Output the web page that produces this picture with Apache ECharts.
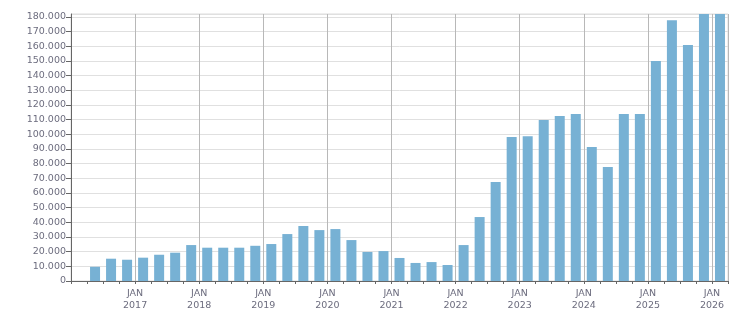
<!DOCTYPE html>
<html>
<head>
<meta charset="utf-8">
<script src="https://cdn.jsdelivr.net/npm/echarts@6/dist/echarts.min.js"></script>
<style>
  html, body { margin: 0; padding: 0; background: #fff; }
  #chart { width: 751px; height: 313px; }
</style>
</head>
<body>
<div id="chart"></div>
<script>
// quarters (categories)
var quarters = [
  '2016 Q1', '2016 Q2', '2016 Q3', '2016 Q4',
  '2017 Q1', '2017 Q2', '2017 Q3', '2017 Q4',
  '2018 Q1', '2018 Q2', '2018 Q3', '2018 Q4',
  '2019 Q1', '2019 Q2', '2019 Q3', '2019 Q4',
  '2020 Q1', '2020 Q2', '2020 Q3', '2020 Q4',
  '2021 Q1', '2021 Q2', '2021 Q3', '2021 Q4',
  '2022 Q1', '2022 Q2', '2022 Q3', '2022 Q4',
  '2023 Q1', '2023 Q2', '2023 Q3', '2023 Q4',
  '2024 Q1', '2024 Q2', '2024 Q3', '2024 Q4',
  '2025 Q1', '2025 Q2', '2025 Q3', '2025 Q4',
  '2026 Q1'
];
// values per quarter
var values = [
  null, 9700, 15200, 14500,
  15900, 17900, 19300, 24500,
  22700, 22700, 22700, 24000,
  25200, 32000, 37500, 34700,
  35400, 27900, 19800, 20400,
  15700, 12300, 12900, 10900,
  24500, 43600, 67400, 98100,
  98700, 109700, 112400, 113800,
  91300, 77700, 113800, 113800,
  149900, 177800, 160800, 190000,
  195000
];
// tick label text
var monthLabel = 'JAN';
var yMax = 182000;
var yStep = 10000;

var isYearStart = function (index) {
  return index > 0 && index % 4 === 0;
};
var thousands = function (v) {
  return String(v).replace(/\B(?=(\d{3})+(?!\d))/g, '.');
};

var myChart = echarts.init(document.getElementById('chart'));
var option = {
  animation: false,
  backgroundColor: '#ffffff',
  textStyle: { fontFamily: 'DejaVu Sans' },
  grid: {
    left: 71,
    right: 23,
    top: 14,
    bottom: 32,
    show: true,
    borderColor: '#dddddd',
    borderWidth: 1
  },
  xAxis: {
    type: 'category',
    data: quarters,
    boundaryGap: true,
    axisLine: { lineStyle: { color: '#666666', width: 1 } },
    axisTick: { show: true, interval: 0, length: 3, lineStyle: { color: '#666666' } },
    splitLine: {
      show: true,
      interval: function (index) { return isYearStart(index); },
      lineStyle: { color: '#b8b8b8', width: 1 }
    },
    axisLabel: {
      interval: function (index) { return isYearStart(index); },
      formatter: function (value) { return monthLabel + '\n' + value.slice(0, 4); },
      color: '#6c6c7e',
      fontSize: 9.5,
      lineHeight: 12,
      margin: 7,
      padding: [0, 16, 0, 0]
    }
  },
  yAxis: {
    type: 'value',
    min: 0,
    max: yMax,
    interval: yStep,
    axisLine: { show: true, lineStyle: { color: '#666666', width: 1 } },
    axisTick: { show: true, length: 5, lineStyle: { color: '#666666' } },
    splitLine: { show: true, lineStyle: { color: '#e0e0e0', width: 1 } },
    axisLabel: {
      showMaxLabel: false,
      formatter: thousands,
      color: '#6c6c7e',
      fontSize: 9.5,
      margin: 5
    }
  },
  series: [
    {
      type: 'bar',
      data: values,
      barWidth: 10,
      clip: true,
      itemStyle: { color: '#77b1d4' }
    }
  ]
};
myChart.setOption(option);
</script>
</body>
</html>
